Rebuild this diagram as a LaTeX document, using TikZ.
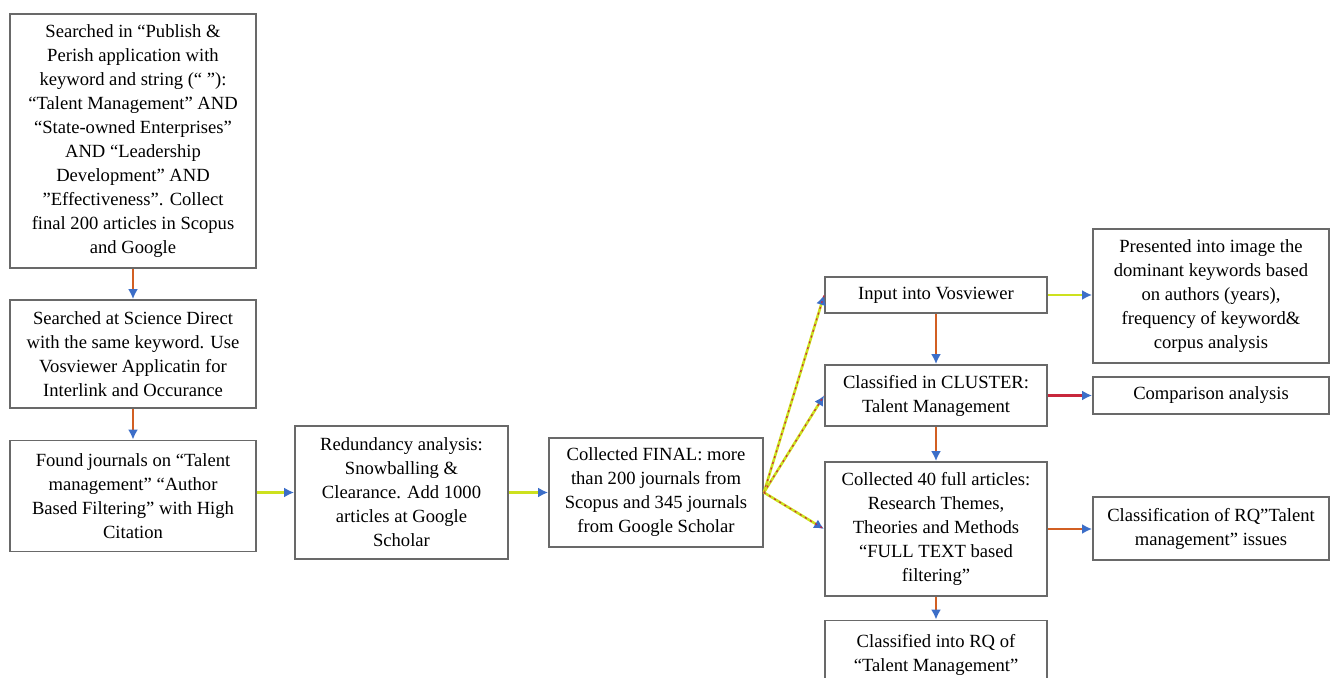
\documentclass[tikz,border=0pt]{standalone}
\usepackage{fontspec}
\setmainfont{Liberation Serif}
\usetikzlibrary{arrows.meta,positioning}
\definecolor{boxgray}{RGB}{105,105,105}
\definecolor{linkyellow}{RGB}{205,225,30}
\definecolor{linkorange}{RGB}{210,95,35}
\definecolor{linkred}{RGB}{200,40,60}
\definecolor{tipblue}{RGB}{60,110,200}
\tikzset{
    % Basic flow box (grey frame, serif text)
    flowbox/.style={
        draw=boxgray, fill=white, line width=0.9pt,
        align=center, inner sep=1pt,
        font=\fontsize{9.3}{12}\selectfont
    },
    % Arrow tip used by every link
    bluetip/.style={-{Latex[length=5pt,width=5pt,color=tipblue]}},
    % Links - semantic naming
    sidelink/.style={draw=linkyellow, line width=1.4pt, bluetip},
    downlink/.style={draw=linkorange, line width=1.4pt, bluetip},
    fanlink/.style={draw=linkyellow, line width=1.3pt, bluetip,
        postaction={draw=linkred, line width=0.6pt, dash pattern=on 1pt off 2pt, -}},
}

\begin{document}
\begin{tikzpicture}[x=0.5pt,y=-0.5pt]
  \useasboundingbox (0,0) rectangle (1330,678);
  % search column
  \node[flowbox,minimum width=123pt,minimum height=127pt] (search) at (133,141)
    {Searched in “Publish \&\\Perish application with\\keyword and string (“ ”):\\“Talent Management” AND\\“State-owned Enterprises”\\AND “Leadership\\Development” AND\\”Effectiveness”. Collect\\final 200 articles in Scopus\\and Google};
  \node[flowbox,minimum width=123pt,minimum height=54pt] (direct) at (133,354)
    {Searched at Science Direct\\with the same keyword. Use\\Vosviewer Applicatin for\\Interlink and Occurance};
  \node[flowbox,minimum width=123pt,minimum height=55.5pt] (found) at (133,496)
    {Found journals on “Talent\\management” “Author\\Based Filtering” with High\\Citation};
  % middle row
  \node[flowbox,minimum width=106.5pt,minimum height=66.5pt] (redund) at (401.5,492.5)
    {Redundancy analysis:\\Snowballing \&\\Clearance. Add 1000\\articles at Google\\Scholar};
  \node[flowbox,minimum width=107pt,minimum height=54.5pt] (final) at (656,492.5)
    {Collected FINAL: more\\than 200 journals from\\Scopus and 345 journals\\from Google Scholar};
  % analysis column
  \node[flowbox,minimum width=111pt,minimum height=18pt] (vos) at (936,295)
    {Input into Vosviewer};
  \node[flowbox,minimum width=111pt,minimum height=30.5pt] (cluster) at (936,395.5)
    {Classified in CLUSTER:\\Talent Management};
  \node[flowbox,minimum width=111pt,minimum height=67pt] (full) at (936,529)
    {Collected 40 full articles:\\Research Themes,\\Theories and Methods\\“FULL TEXT based\\filtering”};
  \node[flowbox,minimum width=111pt,minimum height=34.5pt] (rq) at (936,655)
    {Classified into RQ of\\“Talent Management”};
  % outcome column
  \node[flowbox,minimum width=118pt,minimum height=67pt] (image) at (1211,296)
    {Presented into image the\\dominant keywords based\\on authors (years),\\frequency of keyword\&\\corpus analysis};
  \node[flowbox,minimum width=118pt,minimum height=18.5pt] (compare) at (1211,395.5)
    {Comparison analysis};
  \node[flowbox,minimum width=118pt,minimum height=31.5pt] (issues) at (1211,528.5)
    {Classification of RQ”Talent\\management” issues};

  \draw[downlink] (search) -- (direct);
  \draw[downlink] (direct) -- (found);
  \draw[sidelink] (found.east |- redund.west) -- (redund.west);
  \draw[sidelink] (redund) -- (final);
  \draw[fanlink] (final.east) -- (vos.west);
  \draw[fanlink] (final.east) -- (cluster.west);
  \draw[fanlink] (final.east) -- (full.west);
  \draw[downlink] (vos) -- (cluster);
  \draw[downlink] (cluster) -- (full);
  \draw[downlink] (full) -- (rq);
  \draw[sidelink] (vos) -- (vos -| image.west);
  \draw[downlink,draw=linkred] (cluster) -- (cluster -| compare.west);
  \draw[downlink] (full) -- (full -| issues.west);
\end{tikzpicture}
\end{document}
